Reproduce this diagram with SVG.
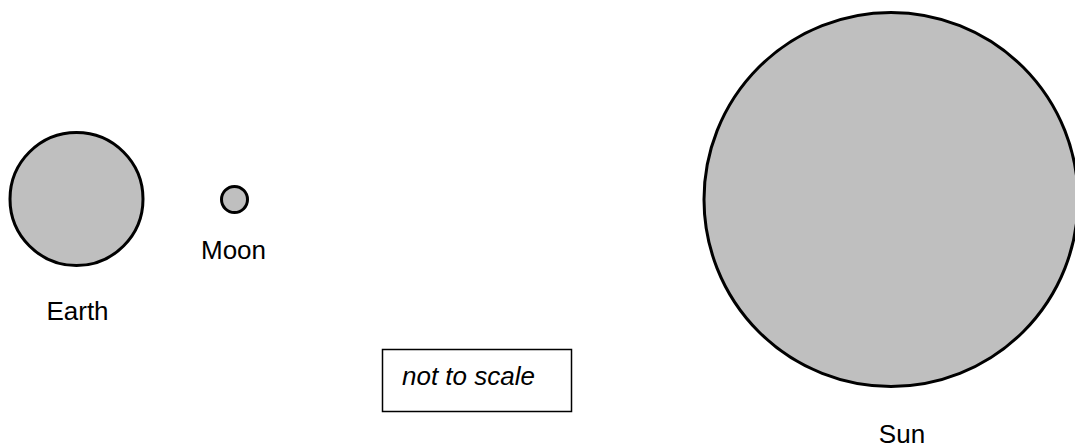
<svg xmlns="http://www.w3.org/2000/svg" width="1075" height="447" viewBox="0 0 1075 447">
<style>
.body{fill:#bfbfbf;stroke:#000;stroke-width:3}
.lbl{font-family:"Liberation Sans",Arial,sans-serif;font-size:26px;fill:#000;text-anchor:middle}
</style>
<rect width="1075" height="447" fill="#fff"/>
<g id="earth">
<circle class="body" cx="76.5" cy="199" r="66.5"/>
<text class="lbl" x="77.5" y="320">Earth</text>
</g>
<g id="moon">
<circle class="body" cx="234.5" cy="199.5" r="13"/>
<text class="lbl" x="233.5" y="259">Moon</text>
</g>
<g id="sun">
<circle class="body" cx="891" cy="199.5" r="187"/>
<text class="lbl" x="902" y="443">Sun</text>
</g>
<g id="note">
<rect x="382.5" y="349.5" width="189" height="62" fill="#fff" stroke="#000" stroke-width="1.5"/>
<text x="402" y="385" font-family="&quot;Liberation Sans&quot;,Arial,sans-serif" font-size="26" font-style="italic">not to scale</text>
</g>
<g id="connectors"/>
</svg>
